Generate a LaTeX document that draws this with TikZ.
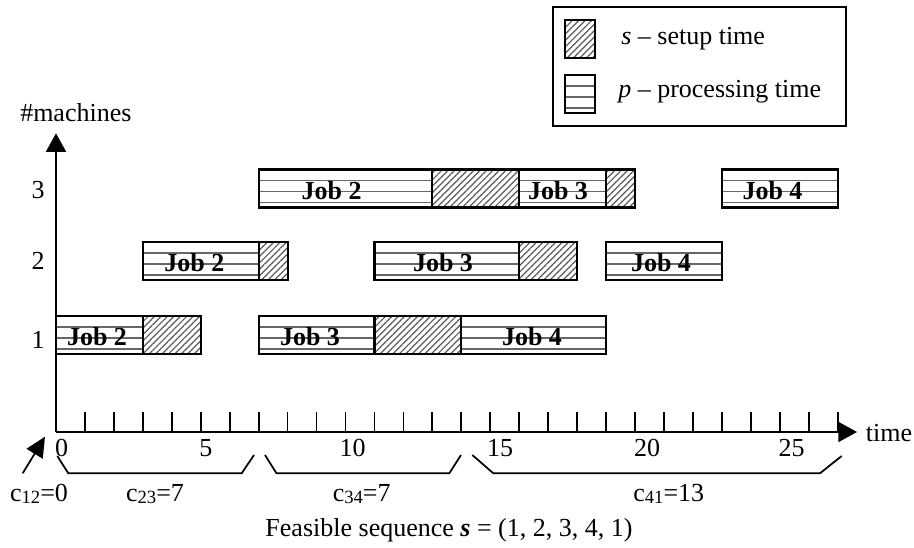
\documentclass[tikz,border=0pt]{standalone}
\usepackage{fontspec}
\setmainfont{Liberation Serif}
\usepackage{graphicx}
\usetikzlibrary{arrows.meta,patterns.meta}
\newcommand\lsub[1]{\raisebox{-1.5pt}{\fontsize{14}{16}\selectfont #1}}
\newcommand\procbar[6]{%
  \draw[stripe] ({tx(#1)},{#3+11}) -- ({tx(#2)},{#3+11})
                ({tx(#1)},{#3+22}) -- ({tx(#2)},{#3+22})
                ({tx(#1)},{#3+33}) -- ({tx(#2)},{#3+33});
  \draw[frame] ({tx(#1)},#3) rectangle ({tx(#2)},{#3+38});
  \node[joblbl] (#5) at (#4,{#3+30}) {#6};}
\newcommand\setbar[3]{%
  \path[hatch] ({tx(#1)},#3) rectangle ({tx(#2)},{#3+38});
  \draw[frame] ({tx(#1)},#3) rectangle ({tx(#2)},{#3+38});}
\begin{document}
\begin{tikzpicture}[x=0.75pt,y=-0.75pt,
  declare function={tx(\t)=56+\t*28.95;},
  lbl/.style={font=\fontsize{19.5}{22}\selectfont, inner sep=0pt},
  joblbl/.style={font=\fontsize{19.5}{22}\selectfont\bfseries, inner sep=0pt, anchor=base},
  axis/.style={line width=1.5pt, -{Triangle[length=14pt,width=15pt]}},
  tickmark/.style={line width=1.3pt},
  bracket/.style={line width=1.3pt},
  frame/.style={line width=1.6pt},
  stripe/.style={line width=1.4pt, black!60},
  hatch/.style={pattern={Lines[angle=45,distance=3.4pt,line width=0.9pt]}, pattern color=black!65},
]
\useasboundingbox (0,0) rectangle (914,548);

% legend
\draw[line width=1.25pt] (552.7,6.7) rectangle (846,126);
\path[hatch] (565,20) rectangle (595,58);
\draw[line width=1.4pt] (565,20) rectangle (595,58);
\draw[stripe] (565,86) -- (595,86) (565,97) -- (595,97) (565,108) -- (595,108);
\draw[line width=1.4pt] (565,75) rectangle (595,113);
\node[lbl, anchor=base west] (ls) at (621,45) {\textit{s} – setup time};
\node[lbl, anchor=base west] (lp) at (618,98) {\textit{p} – processing time};

% axes
\coordinate (O) at (56,432);
\coordinate (ytip) at (56,133.3);
\coordinate (xtip) at (857,432);
\draw[axis] (O) -- (ytip);
\draw[axis] (O) -- (xtip);
\foreach \i in {1,...,27} \draw[tickmark] ({tx(\i)},432) -- ({tx(\i)},412);
\node[lbl, anchor=base west] (ylab) at (20,121.7) {\#machines};
\node[lbl, anchor=base west] (xlab) at (865.7,441.7) {time};
\node[lbl] (r1) at (38,340) {1};
\node[lbl] (r2) at (38,261) {2};
\node[lbl] (r3) at (38,190) {3};
\node[lbl] (t0) at (61.7,448.3) {0};
\node[lbl] (t5) at (205.8,448.3) {5};
\node[lbl] (t10) at (352.7,448.3) {10};
\node[lbl] (t15) at (500,448.3) {15};
\node[lbl] (t20) at (647,448.3) {20};
\node[lbl] (t25) at (791.7,448.3) {25};

% row 1
\procbar{0}{3}{316}{97}{j2a}{Job 2}
\setbar{3}{5}{316}
\procbar{7}{11}{316}{310}{j3a}{Job 3}
\setbar{11}{14}{316}
\procbar{14}{19}{316}{532}{j4a}{Job 4}
% row 2
\procbar{3}{7}{241.7}{194.3}{j2b}{Job 2}
\setbar{7}{8}{241.7}
\procbar{11}{16}{241.7}{443}{j3b}{Job 3}
\setbar{16}{18}{241.7}
\procbar{19}{23}{241.7}{661}{j4b}{Job 4}
% row 3
\procbar{7}{13}{169.5}{331.7}{j2c}{Job 2}
\setbar{13}{16}{169.5}
\procbar{16}{19}{169.5}{558}{j3c}{Job 3}
\setbar{19}{20}{169.5}
\procbar{23}{27}{169.5}{772.5}{j4c}{Job 4}

% brackets
\draw[bracket] (57.3,456) -- (68.3,473.3) -- (241.7,473.3) -- (254,455);
\draw[bracket] (265,455) -- (276.5,473.3) -- (449.3,473.3) -- (461,455);
\draw[bracket] (472.3,455) -- (493.3,473.3) -- (820,473.3) -- (841.7,456);
\coordinate (c12tail) at (22.7,473.3);
\coordinate (c12tip) at (45,436.7);
\draw[line width=1.3pt, -{Triangle[length=15pt,width=14pt]}] (c12tail) -- (c12tip);
\node[lbl, anchor=base] (c12) at (39,501.5) {c\lsub{12}=0};
\node[lbl, anchor=base] (c23) at (155,501.5) {c\lsub{23}=7};
\node[lbl, anchor=base] (c34) at (361.7,501.5) {c\lsub{34}=7};
\node[lbl, anchor=base] (c41) at (668.8,501.5) {c\lsub{41}=13};

\node[lbl, anchor=base] (cap) at (449,537) {Feasible sequence \textbf{\textit{s}} = (1, 2, 3, 4, 1)};
\end{tikzpicture}
\end{document}
